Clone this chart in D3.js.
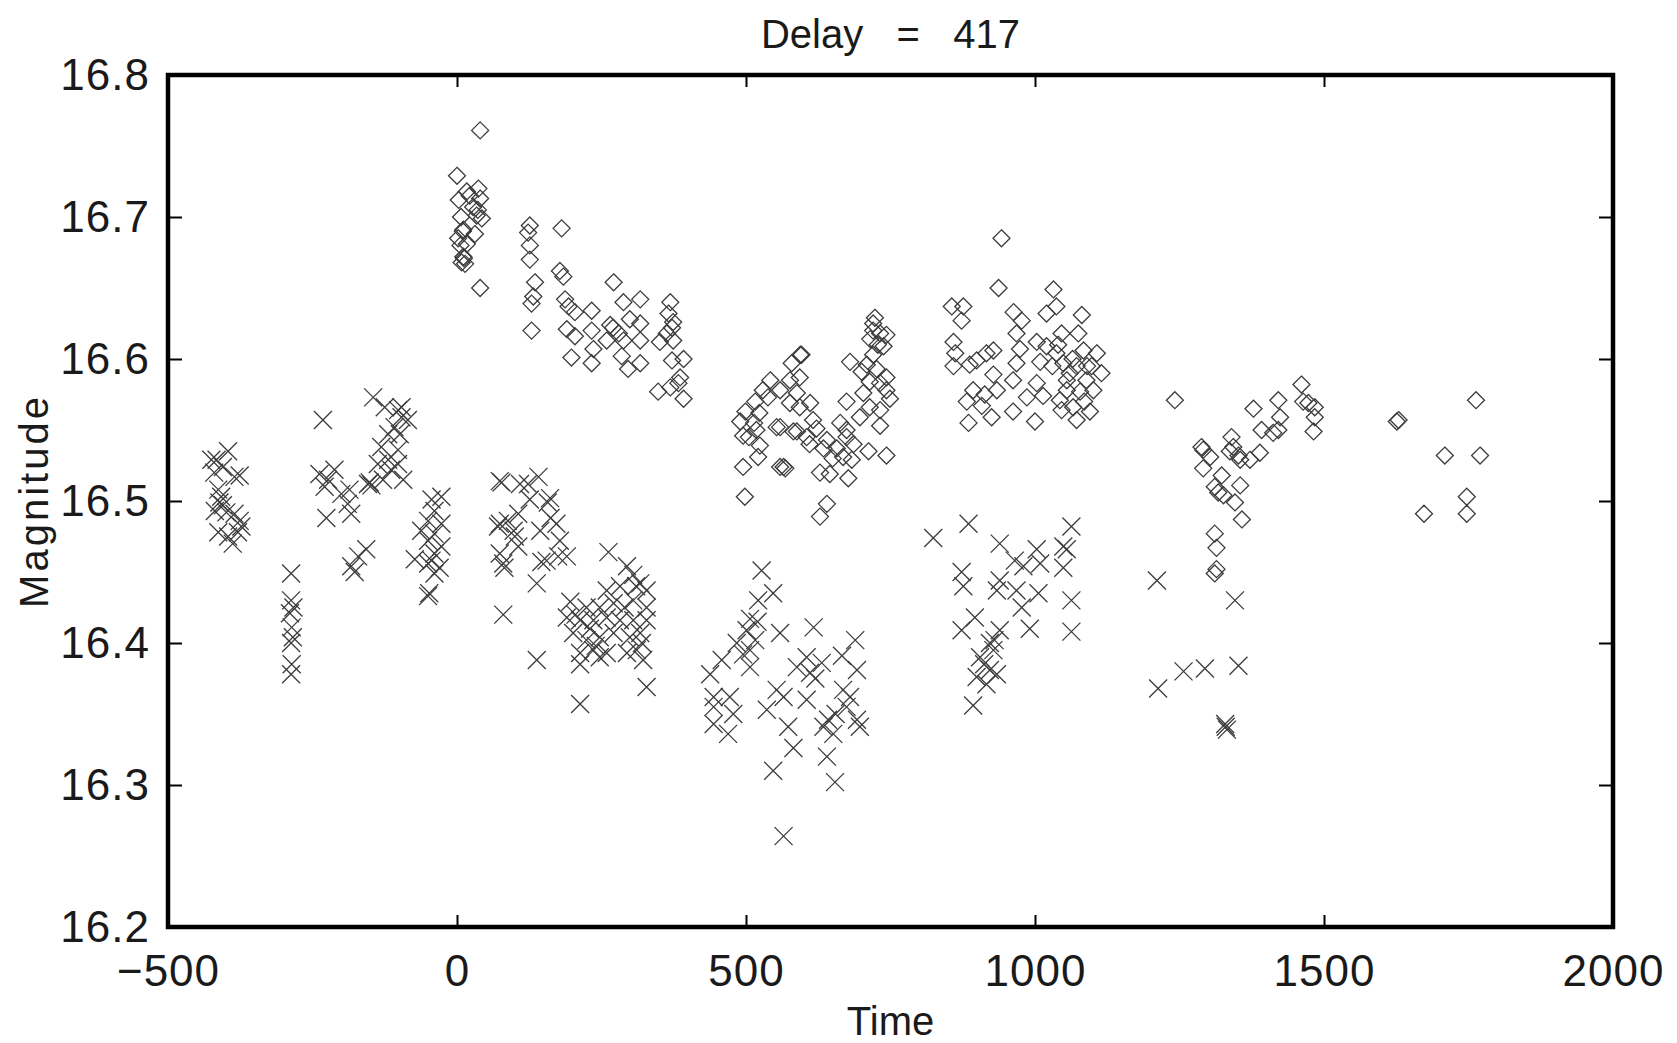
<!DOCTYPE html>
<html>
<head>
<meta charset="utf-8">
<script src="https://cdn.jsdelivr.net/npm/d3@7"></script>
<style>
  body { margin: 0; background: #fff; }
  text { font-family: "Liberation Sans", Arial, sans-serif; }
</style>
</head>
<body>
<div id="chart"></div>
<script>
(function(){

const width = 1677;
const height = 1043;
const margin = {top:75, right:64, bottom:116, left:168};

const xTicks = [-500, 0, 500, 1000, 1500, 2000];
const yTicks = [16.2, 16.3, 16.4, 16.5, 16.6, 16.7, 16.8];
const titleText = "Delay   =   417";

// diamonds: [time, magnitude]
const diamonds = [
  [40,16.761],[0,16.729],[37,16.720],[17,16.718],[40,16.713],[28,16.707],[34,16.701],[43,16.699],[11,16.691],[31,16.688],
  [17,16.681],[11,16.672],[14,16.667],[40,16.650],[3,16.712],[7,16.700],[2,16.685],[10,16.690],[6,16.680],[12,16.671],
  [8,16.668],[22,16.715],[36,16.705],
  [126,16.694],[123,16.689],[181,16.692],[126,16.680],[126,16.670],[178,16.662],[184,16.658],[271,16.654],[135,16.654],[132,16.644],
  [129,16.639],[187,16.642],[193,16.637],[204,16.633],[233,16.634],[288,16.640],[317,16.642],[369,16.640],[129,16.620],[190,16.621],
  [233,16.620],[265,16.624],[317,16.625],[299,16.628],[374,16.626],[363,16.618],[204,16.616],[236,16.607],[259,16.613],[288,16.613],
  [317,16.613],[351,16.612],[374,16.613],[198,16.601],[233,16.597],[285,16.602],[317,16.597],[296,16.593],[372,16.599],[392,16.600],
  [386,16.587],[383,16.583],[348,16.577],[369,16.580],[392,16.572],[270,16.622],[280,16.618],[372,16.622],[366,16.632],
  [723,16.629],[720,16.620],[732,16.618],[743,16.617],[715,16.614],[738,16.609],[720,16.603],[596,16.603],[579,16.597],[680,16.598],
  [709,16.596],[726,16.593],[593,16.587],[576,16.585],[700,16.591],[743,16.587],[714,16.584],[732,16.583],[559,16.578],[588,16.576],
  [703,16.576],[743,16.578],[749,16.572],[674,16.570],[576,16.569],[593,16.566],[611,16.569],[714,16.566],[732,16.564],[697,16.559],
  [616,16.557],[663,16.555],[559,16.552],[622,16.551],[674,16.550],[732,16.553],[588,16.549],[605,16.545],[674,16.545],[640,16.543],
  [686,16.540],[634,16.537],[657,16.537],[712,16.535],[743,16.532],[668,16.531],[683,16.529],[565,16.524],[628,16.520],[645,16.519],
  [677,16.516],[640,16.498],[628,16.489],[495,16.546],[518,16.550],[553,16.552],[582,16.549],[524,16.539],[495,16.524],[521,16.531],
  [559,16.524],[568,16.523],[498,16.503],[499,16.563],[490,16.556],[505,16.545],[516,16.570],[529,16.578],[542,16.585],[523,16.562],
  [538,16.573],[514,16.555],[594,16.603],[720,16.625],[728,16.610],[610,16.540],[650,16.530],
  [856,16.637],[876,16.637],[873,16.627],[963,16.633],[977,16.627],[1020,16.632],[1037,16.637],[1081,16.631],[968,16.618],[1003,16.612],
  [1046,16.618],[1075,16.618],[859,16.612],[974,16.607],[1020,16.609],[928,16.606],[916,16.604],[862,16.604],[1037,16.604],[1084,16.606],
  [1107,16.604],[899,16.599],[887,16.596],[859,16.595],[968,16.597],[1009,16.598],[1049,16.597],[1072,16.595],[1098,16.595],[1115,16.590],
  [928,16.589],[962,16.585],[1003,16.583],[1055,16.585],[1089,16.585],[893,16.578],[913,16.575],[934,16.578],[986,16.573],[1014,16.574],
  [1055,16.578],[1078,16.577],[1101,16.578],[882,16.570],[908,16.567],[962,16.563],[925,16.559],[1066,16.566],[1095,16.563],[1046,16.564],
  [885,16.555],[1000,16.556],[1072,16.557],[1043,16.571],[942,16.685],[937,16.650],[1032,16.649],[1060,16.590],[1065,16.600],[1040,16.610],
  [1030,16.595],[1085,16.570],[1090,16.595],
  [1242,16.571],[1461,16.582],[1464,16.570],[1473,16.569],[1484,16.566],[1484,16.559],[1482,16.549],[1378,16.565],[1421,16.571],[1424,16.559],
  [1392,16.550],[1412,16.548],[1421,16.550],[1340,16.545],[1288,16.538],[1291,16.536],[1303,16.531],[1343,16.538],[1352,16.532],[1355,16.529],
  [1372,16.529],[1389,16.534],[1337,16.535],[1291,16.523],[1323,16.518],[1311,16.510],[1317,16.506],[1326,16.504],[1355,16.511],[1346,16.499],
  [1358,16.487],[1311,16.477],[1314,16.467],[1314,16.452],[1311,16.449],[1626,16.556],[1629,16.557],[1709,16.532],[1770,16.532],[1763,16.571],
  [1747,16.503],[1747,16.491],[1673,16.491]
];

// crosses: [time, magnitude]
const crosses = [
  [-396,16.535],[-416,16.529],[-405,16.524],[-385,16.517],[-376,16.518],[-413,16.508],[-411,16.499],[-419,16.493],[-399,16.492],[-385,16.491],
  [-376,16.486],[-413,16.478],[-379,16.478],[-388,16.470],[-396,16.475],[-425,16.529],[-405,16.497],[-373,16.482],[-408,16.503],[-420,16.520],
  [-287,16.449],[-287,16.430],[-283,16.425],[-289,16.421],[-286,16.411],[-284,16.404],[-287,16.400],[-286,16.385],[-287,16.378],
  [-232,16.557],[-238,16.519],[-223,16.515],[-212,16.522],[-229,16.510],[-200,16.505],[-186,16.508],[-189,16.498],[-183,16.491],[-226,16.488],
  [-183,16.454],[-171,16.461],[-157,16.466],[-177,16.450],
  [-145,16.573],[-125,16.566],[-102,16.564],[-96,16.559],[-108,16.552],[-119,16.547],[-99,16.547],[-131,16.538],[-102,16.536],[-119,16.529],
  [-137,16.526],[-102,16.526],[-114,16.522],[-151,16.513],[-154,16.512],[-148,16.511],[-128,16.515],[-93,16.515],[-85,16.557],[-96,16.566],
  [-27,16.503],[-44,16.501],[-39,16.493],[-50,16.486],[-27,16.484],[-62,16.479],[-39,16.477],[-50,16.472],[-27,16.468],[-73,16.459],
  [-39,16.463],[-50,16.456],[-30,16.453],[-39,16.449],[-50,16.433],[-48,16.435],[-44,16.458],
  [74,16.514],[109,16.512],[141,16.517],[126,16.501],[161,16.502],[106,16.491],[74,16.484],[98,16.479],[172,16.484],[144,16.479],
  [178,16.472],[74,16.463],[80,16.456],[155,16.458],[190,16.461],[138,16.442],[80,16.420],[138,16.388],[77,16.513],[123,16.512],
  [88,16.486],[71,16.482],[100,16.475],[106,16.468],[82,16.453],[146,16.457],[162,16.488],[175,16.461],[157,16.499],
  [262,16.464],[294,16.454],[305,16.448],[317,16.442],[328,16.437],[282,16.440],[259,16.437],[196,16.429],[224,16.425],[247,16.425],
  [271,16.428],[305,16.430],[328,16.425],[190,16.418],[213,16.416],[236,16.416],[259,16.418],[282,16.416],[305,16.416],[328,16.416],
  [201,16.407],[224,16.402],[247,16.404],[271,16.407],[299,16.404],[317,16.407],[213,16.393],[236,16.395],[259,16.393],[311,16.395],
  [322,16.388],[213,16.385],[247,16.390],[294,16.393],[328,16.369],[213,16.357],[205,16.420],[230,16.410],[290,16.425],[310,16.440],
  [320,16.400],[240,16.398],
  [527,16.451],[547,16.435],[521,16.430],[507,16.417],[501,16.409],[559,16.407],[617,16.411],[516,16.402],[484,16.400],[507,16.395],
  [458,16.388],[507,16.383],[438,16.378],[605,16.390],[611,16.379],[689,16.402],[666,16.391],[692,16.381],[631,16.386],[588,16.383],
  [553,16.367],[565,16.362],[668,16.367],[674,16.355],[692,16.346],[642,16.346],[651,16.336],[634,16.341],[605,16.360],[444,16.362],
  [472,16.362],[444,16.355],[478,16.350],[444,16.343],[469,16.336],[573,16.341],[582,16.326],[640,16.320],[547,16.310],[654,16.302],
  [565,16.264],[536,16.353],[697,16.341],[620,16.375],[655,16.350],[680,16.362],[495,16.392],[520,16.415],
  [824,16.474],[885,16.484],[939,16.470],[1063,16.482],[1049,16.468],[1055,16.466],[1003,16.466],[873,16.450],[876,16.440],[965,16.458],
  [980,16.454],[1009,16.456],[1049,16.453],[939,16.444],[934,16.437],[968,16.437],[1006,16.435],[977,16.425],[1063,16.430],[991,16.410],
  [1063,16.408],[896,16.418],[873,16.409],[939,16.409],[922,16.400],[928,16.395],[905,16.390],[922,16.381],[899,16.376],[934,16.378],
  [916,16.371],[893,16.356],[930,16.402],[912,16.385],
  [1211,16.444],[1346,16.430],[1213,16.368],[1257,16.380],[1294,16.382],[1352,16.384],[1329,16.343],[1332,16.339],[1330,16.341]
];

const svg = d3.select("#chart")
  .append("svg")
  .attr("width", width)
  .attr("height", height)
  .style("background", "#fff");

const x = d3.scaleLinear()
  .domain([-500, 2000])
  .range([margin.left, width - margin.right]);

const y = d3.scaleLinear()
  .domain([16.2, 16.8])
  .range([height - margin.bottom, margin.top]);

// axes with inward ticks on all four sides
const fontSize = 40;
const tickFont = 44;

const xAxis = svg.append("g")
  .attr("transform", `translate(0,${height - margin.bottom})`)
  .call(d3.axisBottom(x).tickValues(xTicks).tickSize(-12).tickPadding(28).tickFormat(d3.format("d")));

svg.append("g")
  .attr("transform", `translate(0,${margin.top})`)
  .call(d3.axisTop(x).tickValues(xTicks).tickSize(-12).tickFormat(""));

const yAxis = svg.append("g")
  .attr("transform", `translate(${margin.left},0)`)
  .call(d3.axisLeft(y).tickValues(yTicks).tickSize(-14).tickPadding(18).tickFormat(d3.format(".1f")));

svg.append("g")
  .attr("transform", `translate(${width - margin.right},0)`)
  .call(d3.axisRight(y).tickValues(yTicks).tickSize(-14).tickFormat(""));

svg.selectAll(".domain").remove();
svg.selectAll(".tick line").attr("stroke", "#000").attr("stroke-width", 2);

[xAxis, yAxis].forEach(g => {
  g.selectAll("text")
    .attr("fill", "#1a1a1a")
    .style("font-family", "'Liberation Sans', Arial, sans-serif")
    .style("font-size", tickFont + "px")
    .style("letter-spacing", "1px");
});

// frame
svg.append("rect")
  .attr("x", margin.left)
  .attr("y", margin.top)
  .attr("width", width - margin.left - margin.right)
  .attr("height", height - margin.top - margin.bottom)
  .attr("fill", "none")
  .attr("stroke", "#000")
  .attr("stroke-width", 4.5);

// markers
const diamondShape = d3.symbol().type(d3.symbolDiamond2 || d3.symbolDiamond).size(184);
const crossShape = d3.symbol().type(d3.symbolTimes || d3.symbolCross).size(213);

const plot = svg.append("g");

plot.selectAll("path.dia")
  .data(diamonds)
  .enter()
  .append("path")
  .attr("class", "dia")
  .attr("transform", d => `translate(${x(d[0])},${y(d[1])})`)
  .attr("d", diamondShape)
  .attr("fill", "none")
  .attr("stroke", "#3c3c3c")
  .attr("stroke-width", 1.3);

plot.selectAll("path.crs")
  .data(crosses)
  .enter()
  .append("path")
  .attr("class", "crs")
  .attr("transform", d => `translate(${x(d[0])},${y(d[1])})`)
  .attr("d", crossShape)
  .attr("fill", "none")
  .attr("stroke", "#3c3c3c")
  .attr("stroke-width", 1.3);

// title and axis labels
svg.append("text")
  .attr("x", (margin.left + width - margin.right) / 2)
  .attr("y", 48)
  .attr("text-anchor", "middle")
  .style("font-size", fontSize + "px")
  .style("white-space", "pre")
  .attr("fill", "#1a1a1a")
  .text(titleText);

svg.append("text")
  .attr("x", (margin.left + width - margin.right) / 2)
  .attr("y", 1035)
  .attr("text-anchor", "middle")
  .style("font-size", fontSize + "px")
  .attr("fill", "#1a1a1a")
  .text("Time");

svg.append("text")
  .attr("transform", "rotate(-90)")
  .attr("x", -(margin.top + height - margin.bottom) / 2)
  .attr("y", 48)
  .attr("text-anchor", "middle")
  .style("font-size", fontSize + "px")
  .style("letter-spacing", "3px")
  .attr("fill", "#1a1a1a")
  .text("Magnitude");

})();
</script>
</body>
</html>
